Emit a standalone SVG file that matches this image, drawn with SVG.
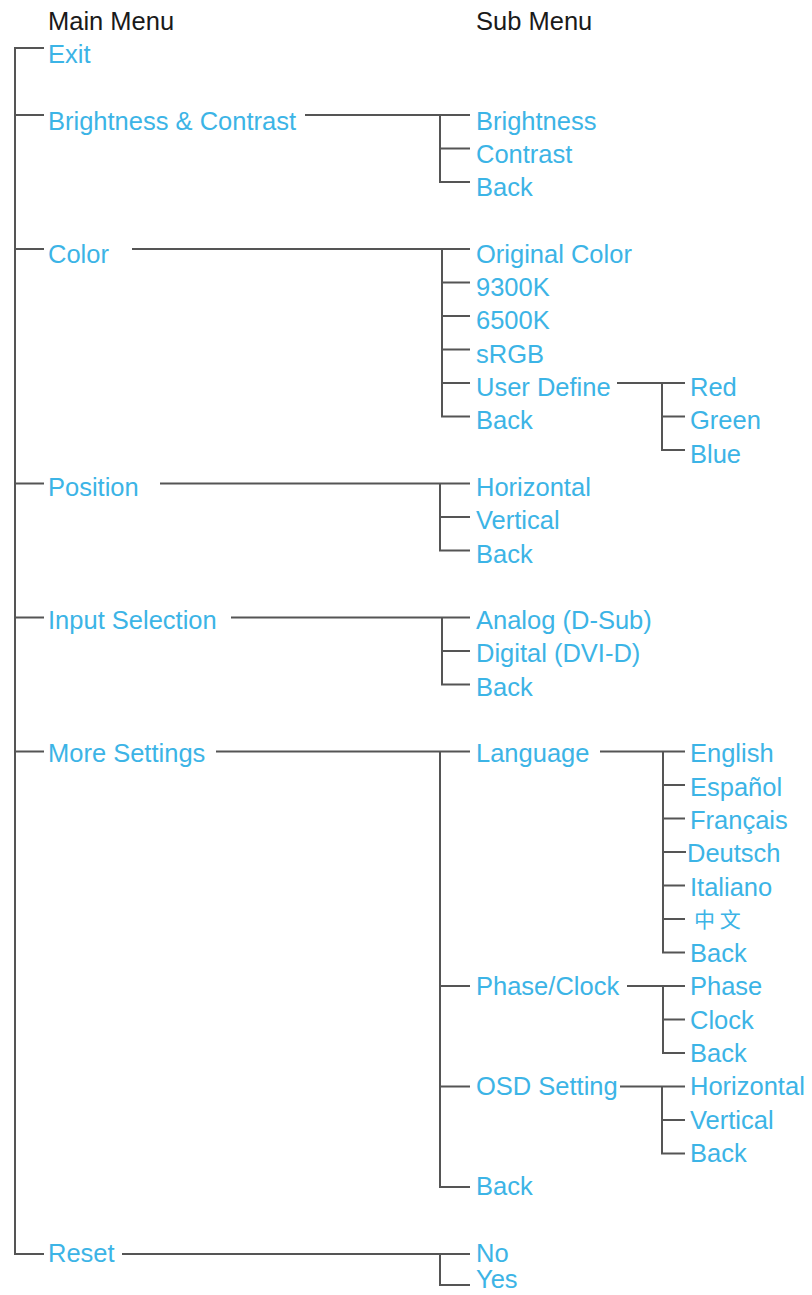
<svg xmlns="http://www.w3.org/2000/svg" width="812" height="1295" viewBox="0 0 812 1295">
<style>
text{font-family:"Liberation Sans",Arial,sans-serif;font-size:25.5px;fill:#3cb4e6}
text.h{fill:#1a1a1a}
text.cjk{font-family:"Noto Sans CJK SC","Liberation Sans",sans-serif;font-size:21px}
.c path{fill:none;stroke:#555;stroke-width:2}
</style>
<rect width="812" height="1295" fill="#fff"/>
<g id="headers">
<text class="h" x="48" y="30">Main Menu</text>
<text class="h" x="476" y="30">Sub Menu</text>
</g>
<g class="c" id="connectors">
<path d="M44 48H15V1254H44"/>
<path d="M15 115H44M15 249H44M15 483.5H44M15 617.5H44M15 751.5H44"/>
<path d="M305 115H470M440 115V182H470M440 148.5H470"/>
<path d="M132 249H470M442 249V416.5H470M442 282.5H470M442 316H470M442 349.5H470M442 383H470"/>
<path d="M617 383H685M662 383V450H685M662 416.5H685"/>
<path d="M160 483.5H470M440 483.5V550.5H470M440 517H470"/>
<path d="M231 617.5H470M442 617.5V684.5H470M442 651H470"/>
<path d="M216 751.5H470M440 751.5V1187H470M440 986H470M440 1086.5H470"/>
<path d="M600 751.5H685M663 751.5V952.5H685M663 785H685M663 818.5H685M663 852H686M663 885.5H685M663 919H685"/>
<path d="M627 986H685M663 986V1053H685M663 1019.5H685"/>
<path d="M620 1086.5H685M662 1086.5V1153.5H685M662 1120H685"/>
<path d="M122 1254H470M440 1254V1285H470"/>
</g>
<g id="n-exit"><text x="48" y="63">Exit</text></g>
<g id="n-bc"><text x="48" y="129.6">Brightness &amp; Contrast</text></g>
<g id="n-bc-b"><text x="476" y="129.6">Brightness</text></g>
<g id="n-bc-c"><text x="476" y="162.9">Contrast</text></g>
<g id="n-bc-back"><text x="476" y="196.2">Back</text></g>
<g id="n-color"><text x="48" y="262.8">Color</text></g>
<g id="n-color-orig"><text x="476" y="262.8">Original Color</text></g>
<g id="n-color-9300"><text x="476" y="296.1">9300K</text></g>
<g id="n-color-6500"><text x="476" y="329.4">6500K</text></g>
<g id="n-color-srgb"><text x="476" y="362.7">sRGB</text></g>
<g id="n-color-user"><text x="476" y="396">User Define</text></g>
<g id="n-color-back"><text x="476" y="429.3">Back</text></g>
<g id="n-red"><text x="690" y="396">Red</text></g>
<g id="n-green"><text x="690" y="429.3">Green</text></g>
<g id="n-blue"><text x="690" y="462.6">Blue</text></g>
<g id="n-pos"><text x="48" y="495.9">Position</text></g>
<g id="n-pos-h"><text x="476" y="495.9">Horizontal</text></g>
<g id="n-pos-v"><text x="476" y="529.2">Vertical</text></g>
<g id="n-pos-back"><text x="476" y="562.5">Back</text></g>
<g id="n-input"><text x="48" y="629.1">Input Selection</text></g>
<g id="n-input-a"><text x="476" y="629.1">Analog (D-Sub)</text></g>
<g id="n-input-d"><text x="476" y="662.4">Digital (DVI-D)</text></g>
<g id="n-input-back"><text x="476" y="695.7">Back</text></g>
<g id="n-more"><text x="48" y="762.3">More Settings</text></g>
<g id="n-lang"><text x="476" y="762.3">Language</text></g>
<g id="n-en"><text x="690" y="762.3">English</text></g>
<g id="n-es"><text x="690" y="795.6">Español</text></g>
<g id="n-fr"><text x="690" y="828.9">Français</text></g>
<g id="n-de"><text x="687" y="862.2">Deutsch</text></g>
<g id="n-it"><text x="690" y="895.5">Italiano</text></g>
<g id="n-zh"><text class="cjk" x="694" y="927">中 文</text></g>
<g id="n-lang-back"><text x="690" y="962.1">Back</text></g>
<g id="n-pc"><text x="476" y="995.4">Phase/Clock</text></g>
<g id="n-phase"><text x="690" y="995.4">Phase</text></g>
<g id="n-clock"><text x="690" y="1028.7">Clock</text></g>
<g id="n-pc-back"><text x="690" y="1062">Back</text></g>
<g id="n-osd"><text x="476" y="1095.3">OSD Setting</text></g>
<g id="n-osd-h"><text x="690" y="1095.3">Horizontal</text></g>
<g id="n-osd-v"><text x="690" y="1128.6">Vertical</text></g>
<g id="n-osd-back"><text x="690" y="1161.9">Back</text></g>
<g id="n-more-back"><text x="476" y="1195.2">Back</text></g>
<g id="n-reset"><text x="48" y="1261.8">Reset</text></g>
<g id="n-no"><text x="476" y="1261.8">No</text></g>
<g id="n-yes"><text x="476" y="1288">Yes</text></g>
</svg>
